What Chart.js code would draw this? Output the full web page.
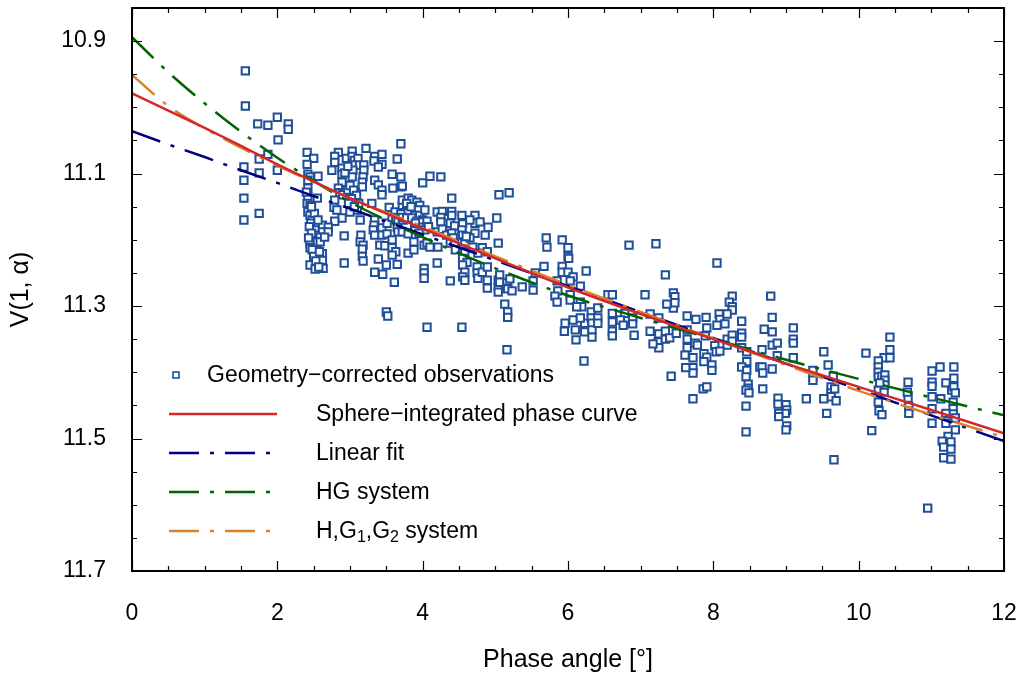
<!DOCTYPE html>
<html lang="en">
<head>
  <meta charset="UTF-8">
  <script src="https://cdn.jsdelivr.net/npm/chart.js"></script>
  <title>Phase curve</title>
  <style>
    html, body { margin: 0; padding: 0; background: #fff; }
    .grafico { width: 1022px; height: 675px; }
  </style>
</head>
<body>
  <div class="grafico">
    <canvas id="graficoFase" width="1022" height="675"></canvas>
  </div>

  <script>
    // ticks
    const xTicks = [0, 2, 4, 6, 8, 10, 12];
    const xMinor = [0.5, 1, 1.5, 2.5, 3, 3.5, 4.5, 5, 5.5, 6.5, 7, 7.5, 8.5, 9, 9.5, 10.5, 11, 11.5];
    const yTicks = [10.9, 11.1, 11.3, 11.5, 11.7];
    const yMinor = [10.95, 11.0, 11.05, 11.15, 11.2, 11.25, 11.35, 11.4, 11.45, 11.55, 11.6, 11.65];

    // model curves
    const curvePhase = [0, 0.5, 1, 1.5, 2, 2.5, 3, 4, 5, 6, 7, 8, 9, 10, 11, 12];
    const sphereV = [10.979, 11.005, 11.031, 11.058, 11.086, 11.112, 11.137, 11.183, 11.228, 11.272, 11.312, 11.350, 11.387, 11.422, 11.457, 11.492];
    const linearV = [11.036, 11.056, 11.075, 11.095, 11.114, 11.134, 11.153, 11.192, 11.231, 11.270, 11.309, 11.348, 11.387, 11.426, 11.465, 11.504];
    const hgV = [10.894, 10.947, 10.994, 11.037, 11.076, 11.111, 11.143, 11.196, 11.243, 11.284, 11.318, 11.350, 11.381, 11.410, 11.438, 11.465];
    const hg1g2V = [10.951, 10.998, 11.032, 11.061, 11.088, 11.113, 11.137, 11.180, 11.225, 11.268, 11.309, 11.349, 11.389, 11.428, 11.464, 11.498];

    // observations [phase, V]
    const observations = [
      [1.56,10.945],[1.56,10.998],[1.73,11.025],[1.87,11.027],[2.00,11.015],[2.15,11.025],[2.15,11.033],[2.01,11.049],
      [1.75,11.078],[1.87,11.071],[2.00,11.095],[1.54,11.090],[1.75,11.099],[1.54,11.110],[1.54,11.137],[1.75,11.160],[1.54,11.170],
      [2.41,11.068],[2.50,11.077],[2.41,11.086],[2.84,11.068],[2.79,11.074],[2.79,11.083],[2.75,11.095],[2.95,11.077],
      [3.03,11.066],[3.03,11.074],[3.06,11.080],[3.11,11.077],[3.11,11.087],[3.03,11.087],[3.04,11.095],[3.03,11.105],
      [3.22,11.062],[3.19,11.087],[3.19,11.095],[3.18,11.105],[3.17,11.113],[3.17,11.120],[2.89,11.092],[2.89,11.101],
      [2.93,11.099],[2.97,11.089],[2.89,11.113],[3.34,11.074],[3.33,11.081],[3.44,11.071],[3.44,11.086],[3.39,11.090],
      [3.65,11.078],[3.70,11.055],[3.34,11.110],[3.39,11.117],[3.44,11.125],[3.44,11.132],[3.58,11.101],[3.59,11.122],
      [3.70,11.105],[3.70,11.120],[2.42,11.101],[2.45,11.105],[2.42,11.110],[2.56,11.104],[2.42,11.122],[2.42,11.135],
      [2.41,11.145],[2.45,11.148],[2.42,11.158],[2.45,11.163],[2.48,11.170],[2.46,11.175],[2.55,11.137],[2.84,11.122],
      [2.86,11.129],[2.90,11.132],[2.97,11.125],[3.07,11.129],[3.07,11.140],[3.03,11.148],[3.10,11.155],[3.00,11.158],
      [2.79,11.140],[2.78,11.151],[2.82,11.155],[2.89,11.167],[2.79,11.172],[3.14,11.170],[3.30,11.145],[3.34,11.170],
      [3.33,11.178],[3.44,11.182],[3.51,11.175],[3.54,11.151],[3.62,11.158],[3.58,11.166],[3.63,11.167],[3.66,11.173],
      [3.65,11.181],[3.66,11.188],[3.72,11.148],[3.70,11.161],[3.73,11.170],[2.56,11.178],[2.62,11.178],[2.70,11.181],
      [2.52,11.185],[2.62,11.188],[2.70,11.188],[2.52,11.193],[2.59,11.196],[2.52,11.203],[2.59,11.203],[2.45,11.205],
      [2.45,11.212],[2.55,11.215],[2.55,11.220],[2.62,11.221],[2.62,11.231],[2.63,11.243],[2.45,11.238],[2.92,11.194],
      [2.92,11.235],[3.15,11.193],[3.14,11.203],[3.18,11.208],[3.17,11.214],[3.17,11.225],[3.18,11.232],[3.32,11.185],
      [3.34,11.193],[3.44,11.193],[3.51,11.191],[3.41,11.208],[3.48,11.209],[3.58,11.200],[3.58,11.212],[3.63,11.218],
      [3.58,11.223],[3.65,11.237],[3.39,11.229],[3.50,11.238],[3.34,11.249],[3.45,11.252],[3.61,11.264],[3.50,11.309],
      [3.52,11.315],[2.44,11.180],[2.47,11.190],[2.43,11.197],[2.48,11.215],[2.50,11.225],[2.53,11.232],[2.58,11.218],
      [2.51,11.160],[2.47,11.150],[2.56,11.170],[2.65,11.196],[2.40,11.128],[2.52,11.244],[2.57,11.241],[3.00,11.118],
      [3.05,11.125],[3.09,11.133],[3.02,11.138],[3.12,11.145],[2.98,11.145],[3.06,11.150],
      [3.72,11.119],[4.10,11.104],[4.25,11.105],[4.00,11.114],[4.40,11.137],[3.72,11.140],[3.80,11.137],[3.85,11.140],
      [3.78,11.145],[3.89,11.151],[3.92,11.143],[3.96,11.148],[3.94,11.155],[3.89,11.163],[3.96,11.163],[4.03,11.155],
      [4.00,11.170],[3.72,11.166],[3.78,11.167],[3.85,11.167],[3.92,11.172],[3.99,11.173],[4.06,11.172],[3.96,11.181],
      [4.03,11.185],[3.89,11.182],[3.72,11.188],[3.80,11.191],[3.88,11.203],[3.80,11.220],[3.88,11.215],[4.02,11.208],
      [4.06,11.205],[4.10,11.211],[4.21,11.211],[4.20,11.158],[4.27,11.157],[4.25,11.166],[4.25,11.173],[4.40,11.157],
      [4.40,11.163],[4.20,11.188],[4.27,11.184],[4.33,11.193],[4.38,11.175],[4.44,11.179],[4.40,11.190],[4.42,11.197],
      [4.38,11.205],[4.44,11.205],[4.54,11.163],[4.55,11.176],[4.54,11.185],[4.55,11.193],[4.58,11.203],[4.72,11.163],
      [4.72,11.175],[4.79,11.173],[4.65,11.170],[4.72,11.190],[4.86,11.193],[4.90,11.181],[5.02,11.167],[4.65,11.197],
      [4.69,11.211],[4.82,11.212],[4.76,11.220],[4.89,11.218],[4.58,11.218],[4.55,11.228],[4.61,11.234],[4.55,11.238],
      [4.58,11.249],[4.55,11.256],[4.58,11.261],[4.75,11.241],[4.75,11.250],[4.76,11.258],[4.82,11.249],[4.89,11.241],
      [4.89,11.261],[4.89,11.273],[5.04,11.261],[5.04,11.271],[5.04,11.279],[5.06,11.253],[4.20,11.235],[4.02,11.243],
      [4.02,11.250],[4.02,11.258],[4.38,11.262],[5.04,11.205],[5.05,11.132],[5.19,11.129],[4.06,11.332],[4.54,11.332],
      [5.13,11.297],[5.17,11.309],[5.17,11.317],[5.06,11.264],[5.16,11.265],[5.17,11.273],[3.84,11.150],[3.90,11.175],
      [3.95,11.190],[4.08,11.180],[4.45,11.215],[4.60,11.195],
      [5.70,11.197],[5.71,11.211],[5.92,11.200],[6.00,11.212],[6.00,11.225],[6.01,11.228],[5.67,11.240],[5.92,11.240],
      [5.92,11.249],[6.00,11.249],[6.07,11.256],[6.25,11.247],[5.20,11.259],[5.17,11.274],[5.23,11.277],[5.37,11.271],
      [5.52,11.276],[5.52,11.262],[5.55,11.250],[5.85,11.262],[5.86,11.277],[5.82,11.285],[5.85,11.294],[6.03,11.262],
      [6.03,11.283],[6.03,11.291],[6.17,11.270],[6.17,11.294],[6.19,11.301],[6.12,11.301],[6.07,11.321],[5.96,11.326],
      [5.95,11.338],[6.10,11.336],[6.11,11.351],[6.23,11.326],[6.23,11.339],[6.17,11.318],[6.32,11.309],[6.32,11.318],
      [6.33,11.326],[6.33,11.336],[6.33,11.347],[6.41,11.303],[6.41,11.318],[6.41,11.326],[6.55,11.283],[6.61,11.311],
      [6.61,11.324],[6.61,11.338],[6.61,11.345],[6.22,11.383],[5.16,11.366],
      [6.84,11.208],[7.21,11.206],[8.05,11.235],[7.34,11.253],[7.06,11.283],[7.45,11.280],[7.47,11.286],[7.45,11.303],
      [7.47,11.295],[7.36,11.297],[6.61,11.283],[8.26,11.285],[8.22,11.294],[8.26,11.301],[8.26,11.306],[6.78,11.311],
      [6.72,11.321],[6.76,11.329],[6.89,11.318],[6.89,11.327],[6.91,11.344],[7.13,11.312],[7.25,11.318],[7.13,11.338],
      [7.25,11.342],[7.24,11.354],[7.25,11.363],[7.17,11.357],[7.34,11.338],[7.34,11.350],[7.40,11.348],[7.49,11.341],
      [7.64,11.315],[7.76,11.320],[7.90,11.317],[7.91,11.333],[7.64,11.336],[7.64,11.350],[7.64,11.363],[7.75,11.356],
      [7.78,11.359],[7.89,11.345],[7.61,11.374],[7.72,11.378],[8.08,11.312],[8.09,11.320],[8.19,11.312],[8.16,11.327],
      [8.05,11.329],[8.19,11.350],[8.19,11.359],[8.02,11.360],[8.04,11.369],[8.09,11.368],[7.87,11.372],[7.91,11.377],
      [7.87,11.384],[7.98,11.389],[7.98,11.397],[7.72,11.393],[7.72,11.401],[7.62,11.393],[7.42,11.406],[7.86,11.425],
      [7.91,11.422],[7.72,11.440],[8.39,11.323],[8.39,11.341],[8.39,11.347],[8.39,11.363],[8.46,11.369],[8.46,11.384],
      [8.39,11.392],[8.46,11.397],[8.45,11.407],[8.48,11.418],[8.48,11.424],[8.45,11.427],[8.49,11.431],[8.45,11.451],
      [8.64,11.392],
      [8.79,11.285],[8.81,11.317],[8.81,11.339],[8.70,11.335],[8.26,11.344],[8.26,11.353],[8.67,11.366],[8.67,11.392],
      [8.68,11.401],[8.68,11.425],[8.45,11.490],[8.81,11.359],[8.88,11.356],[8.88,11.375],[8.81,11.395],[9.10,11.333],
      [9.10,11.350],[9.10,11.356],[9.10,11.378],[8.89,11.439],[8.89,11.448],[9.00,11.449],[9.01,11.457],[8.99,11.462],
      [8.90,11.462],[8.90,11.467],[9.01,11.481],[9.00,11.487],[9.28,11.440],[9.52,11.369],[9.58,11.389],[9.62,11.422],
      [9.62,11.431],[9.62,11.437],[9.67,11.425],[9.69,11.443],[9.52,11.440],[9.56,11.462],[9.37,11.407],[9.65,11.406],
      [9.66,11.532],[10.10,11.371],[9.37,11.397],[9.37,11.412],
      [10.43,11.347],[10.43,11.366],[10.35,11.378],[10.43,11.378],[10.27,11.383],[10.27,11.392],[10.27,11.400],[10.27,11.407],
      [10.32,11.406],[10.36,11.404],[10.36,11.412],[10.27,11.427],[10.35,11.430],[10.36,11.419],[10.27,11.445],[10.28,11.458],
      [10.32,11.464],[10.18,11.488],[10.29,11.416],[10.68,11.415],[10.68,11.439],[10.69,11.452],[10.69,11.462],[10.67,11.430],
      [10.95,11.605],[11.01,11.398],[11.01,11.415],[11.01,11.421],[11.01,11.437],[11.01,11.455],[11.01,11.477],[11.12,11.392],
      [11.20,11.416],[11.13,11.440],[11.28,11.427],[11.31,11.392],[11.31,11.409],[11.31,11.422],[11.33,11.431],[11.30,11.445],
      [11.30,11.455],[11.30,11.463],[11.33,11.469],[11.33,11.487],[11.20,11.462],[11.20,11.477],[11.23,11.497],[11.27,11.505],
      [11.15,11.504],[11.17,11.513],[11.27,11.516],[11.17,11.529],[11.27,11.531]
    ];

    const legendTexts = ["Geometry\u2212corrected observations", "Sphere\u2212integrated phase curve", "Linear fit", "HG system", "H,G1,G2 system"];

    const corObs = "#1f4e9a";
    const dashDot = [30, 11, 4, 11];
    const fonte = "Liberation Sans, Arial, sans-serif";

    function curva(valores) {
      return curvePhase.map((a, i) => ({ x: a, y: valores[i] }));
    }

    // frame, inside ticks on all sides, and legend
    const moldura = {
      id: "moldura",
      afterDraw(chart) {
        const ctx = chart.ctx;
        const a = chart.chartArea;
        const xs = chart.scales.x, ys = chart.scales.y;
        ctx.save();
        ctx.strokeStyle = "#000";
        ctx.lineWidth = 1.2;
        ctx.beginPath();
        function tx(v, len) {
          const p = Math.round(xs.getPixelForValue(v)) + 0.5;
          ctx.moveTo(p, a.bottom); ctx.lineTo(p, a.bottom - len);
          ctx.moveTo(p, a.top); ctx.lineTo(p, a.top + len);
        }
        function ty(v, len) {
          const p = Math.round(ys.getPixelForValue(v)) + 0.5;
          ctx.moveTo(a.left, p); ctx.lineTo(a.left + len, p);
          ctx.moveTo(a.right, p); ctx.lineTo(a.right - len, p);
        }
        xTicks.forEach(v => tx(v, 10));
        xMinor.forEach(v => tx(v, 5));
        yTicks.forEach(v => ty(v, 10));
        yMinor.forEach(v => ty(v, 5));
        ctx.stroke();
        ctx.lineWidth = 2;
        ctx.strokeRect(a.left, a.top, a.right - a.left, a.bottom - a.top);

        // legend
        const ds = chart.data.datasets;
        const y0 = 375, passo = 39;
        ctx.font = "23px " + fonte;
        ctx.fillStyle = "#000";
        ctx.textBaseline = "middle";
        ctx.textAlign = "left";
        // observations
        ctx.lineWidth = 1.6;
        ctx.strokeStyle = corObs;
        ctx.fillStyle = "#fff";
        ctx.fillRect(173, y0 - 3, 6, 6);
        ctx.strokeRect(173, y0 - 3, 6, 6);
        ctx.fillStyle = "#000";
        ctx.fillText(legendTexts[0], 207, y0 + 1);
        for (let i = 1; i < ds.length; i++) {
          const y = y0 + passo * i;
          ctx.strokeStyle = ds[i].borderColor;
          ctx.lineWidth = 2.4;
          ctx.setLineDash(ds[i].borderDash || []);
          ctx.beginPath();
          ctx.moveTo(169, y); ctx.lineTo(277, y);
          ctx.stroke();
          ctx.setLineDash([]);
          if (i === 4) {
            // subscripts
            let x = 316;
            const partes = [["H,G", 0], ["1", 1], [",G", 0], ["2", 1], [" system", 0]];
            partes.forEach(p => {
              ctx.font = p[1] ? "16px " + fonte : "23px " + fonte;
              ctx.fillText(p[0], x, y + 1 + (p[1] ? 6 : 0));
              x += ctx.measureText(p[0]).width;
            });
            ctx.font = "23px " + fonte;
          } else {
            ctx.fillText(legendTexts[i], 316, y + 1);
          }
        }
        ctx.restore();
      }
    };

    const ctx = document.getElementById("graficoFase").getContext("2d");
    const myChart = new Chart(ctx, {
      type: "scatter",
      data: {
        datasets: [
          {
            label: legendTexts[0],
            data: observations.map(o => ({ x: o[0], y: o[1] })),
            pointStyle: "rect",
            pointRadius: 5.2,
            borderWidth: 2,
            borderColor: corObs,
            backgroundColor: "#fff",
            order: 5
          },
          {
            label: legendTexts[1],
            data: curva(sphereV),
            showLine: true,
            pointRadius: 0,
            borderColor: "#d62728",
            borderWidth: 2.5,
            cubicInterpolationMode: "monotone",
            order: 1
          },
          {
            label: legendTexts[2],
            data: curva(linearV),
            showLine: true,
            pointRadius: 0,
            borderColor: "#000080",
            borderWidth: 2.5,
            borderDash: dashDot,
            order: 4
          },
          {
            label: legendTexts[3],
            data: curva(hgV),
            showLine: true,
            pointRadius: 0,
            borderColor: "#006400",
            borderWidth: 2.5,
            borderDash: dashDot,
            cubicInterpolationMode: "monotone",
            order: 3
          },
          {
            label: legendTexts[4],
            data: curva(hg1g2V),
            showLine: true,
            pointRadius: 0,
            borderColor: "#d9822b",
            borderWidth: 2.5,
            borderDash: dashDot,
            cubicInterpolationMode: "monotone",
            order: 2
          }
        ]
      },
      options: {
        responsive: false,
        animation: false,
        layout: { padding: { top: 8, right: 18, left: 0, bottom: 0 } },
        plugins: {
          legend: { display: false },
          tooltip: { enabled: false }
        },
        scales: {
          x: {
            type: "linear",
            min: 0,
            max: 12,
            grid: { display: false, drawTicks: false },
            border: { display: false },
            afterBuildTicks: s => { s.ticks = xTicks.map(v => ({ value: v })); },
            afterFit: s => { s.height = 104; s.paddingLeft = 0; s.paddingRight = 0; },
            ticks: {
              color: "#000",
              padding: 29,
              maxRotation: 0,
              font: { family: fonte, size: 23 }
            },
            title: {
              display: true,
              text: "Phase angle [\u00b0]",
              color: "#000",
              padding: { top: 0, bottom: 0 },
              font: { family: fonte, size: 25 }
            }
          },
          y: {
            type: "linear",
            reverse: true,
            min: 10.85,
            max: 11.7,
            grid: { display: false, drawTicks: false },
            border: { display: false },
            afterBuildTicks: s => { s.ticks = yTicks.map(v => ({ value: v })); },
            afterFit: s => { s.width = 132; s.paddingTop = 0; s.paddingBottom = 0; },
            ticks: {
              color: "#000",
              padding: 26,
              font: { family: fonte, size: 23 },
              callback: v => v.toFixed(1)
            },
            title: {
              display: true,
              text: "V(1, \u03b1)",
              color: "#000",
              padding: { top: 6, bottom: 0 },
              font: { family: fonte, size: 25 }
            }
          }
        }
      },
      plugins: [moldura]
    });
  </script>
</body>
</html>
